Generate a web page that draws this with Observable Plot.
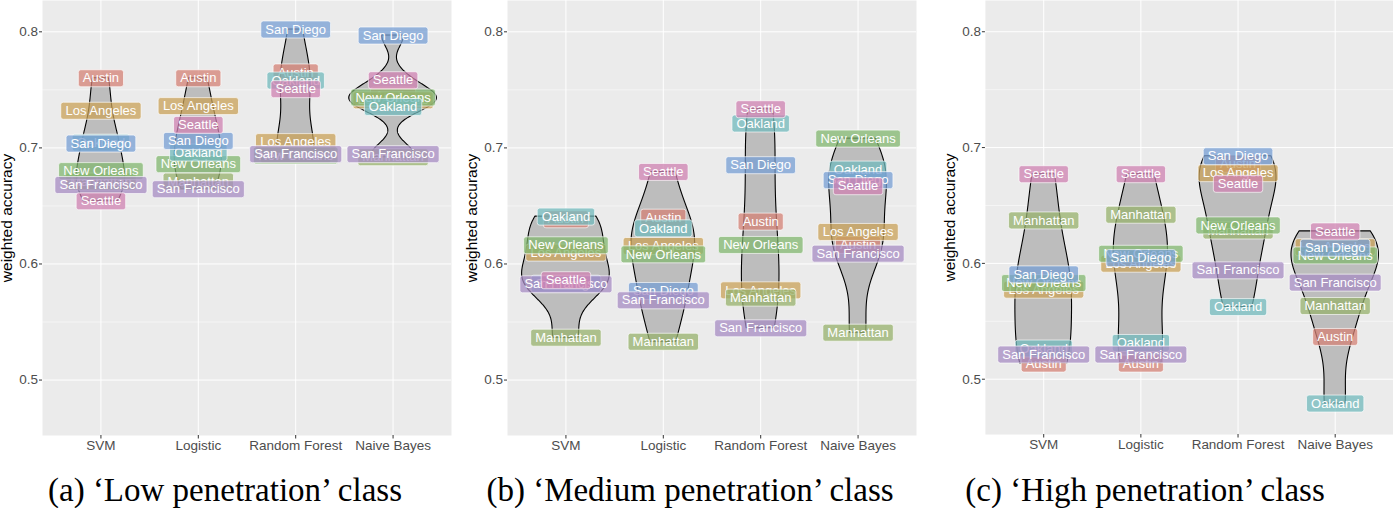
<!DOCTYPE html>
<html><head><meta charset="utf-8">
<script src="https://cdn.jsdelivr.net/npm/d3@7"></script>
<script src="https://cdn.jsdelivr.net/npm/@observablehq/plot@0.6"></script>
<style>
body{margin:0;background:#fff;width:1393px;height:508px;overflow:hidden;position:relative;font-family:"Liberation Sans",Arial,sans-serif}
.panel{position:absolute;top:0}
.cap{position:absolute;top:474px;font-family:"Liberation Serif",serif;font-size:33px;line-height:33px;white-space:nowrap;transform:translateX(-50%);color:#000}
</style></head><body>
<div id="pa" class="panel" style="left:0px"></div>
<div id="pb" class="panel" style="left:465px"></div>
<div id="pc" class="panel" style="left:943px"></div>
<div class="cap" style="left:225px">(a) ‘Low penetration’ class</div>
<div class="cap" style="left:690px">(b) ‘Medium penetration’ class</div>
<div class="cap" style="left:1145px">(c) ‘High penetration’ class</div>
<script>
const models = ["SVM", "Logistic", "Random Forest", "Naive Bayes"];
const cities = ["Austin", "Los Angeles", "Manhattan", "New Orleans", "Oakland", "San Diego", "San Francisco", "Seattle"];
const cityColors = ["#d48275", "#caa258", "#97b26c", "#82b76f", "#72babc", "#779fd4", "#a78cc3", "#cf82b2"];
const yTicks = [0.5, 0.6, 0.7, 0.8];
const yMinor = [0.55, 0.65, 0.75];
const yLabel = "weighted accuracy";

// rows: models; columns: cities (same order as `cities`)
const lowPen = [
  [0.760, 0.732, 0.671, 0.680, 0.7045, 0.7037, 0.668, 0.654],
  [0.760, 0.736, 0.671, 0.686, 0.696, 0.706, 0.6644, 0.7198],
  [0.765, 0.705, 0.694, 0.6935, 0.758, 0.802, 0.6946, 0.7506],
  [0.745, 0.741, 0.692, 0.7434, 0.7353, 0.7968, 0.6946, 0.7583]
];
const medPen = [
  [0.6385, 0.6098, 0.5365, 0.6161, 0.6408, 0.583, 0.5825, 0.586],
  [0.6399, 0.6155, 0.533, 0.6083, 0.6307, 0.5767, 0.5687, 0.6793],
  [0.6365, 0.5773, 0.571, 0.6164, 0.721, 0.6851, 0.5446, 0.7333],
  [0.6164, 0.6276, 0.5408, 0.708, 0.6813, 0.6722, 0.6089, 0.667]
];
const highPen = [
  [0.5135, 0.5773, 0.6371, 0.583, 0.5265, 0.5905, 0.5213, 0.677],
  [0.5135, 0.5997, 0.642, 0.6083, 0.5313, 0.6046, 0.5213, 0.677],
  [0.686, 0.6779, 0.6284, 0.6328, 0.5623, 0.6925, 0.594, 0.6687],
  [0.5365, 0.614, 0.5632, 0.6069, 0.479, 0.6135, 0.5834, 0.6276]
];

// Gaussian KDE with R's nrd0 bandwidth, trimmed to data range (like geom_violin)
function kde(vals) {
  const s = d3.sort(vals), n = s.length;
  const sd = d3.deviation(s);
  const iqr = d3.quantileSorted(s, 0.75) - d3.quantileSorted(s, 0.25);
  let lo = Math.min(sd, iqr / 1.34);
  if (!(lo > 0)) lo = sd || 1;
  const bw = 0.9 * lo * Math.pow(n, -0.2);
  const out = [];
  for (let k = 0; k < 512; k++) {
    const y = s[0] + (s[n - 1] - s[0]) * k / 511;
    let d = 0;
    for (const v of s) { const u = (y - v) / bw; d += Math.exp(-0.5 * u * u); }
    out.push({y, d: d / (n * bw * Math.sqrt(2 * Math.PI))});
  }
  return out;
}

function panel(id, values) {
  const labels = [];
  values.forEach((row, m) => row.forEach((v, c) => labels.push({m, c, v, city: cities[c]})));
  const dens = values.map(row => kde(row));
  const maxD = d3.max(dens.flat(), d => d.d);
  const violins = [];
  dens.forEach((arr, m) => arr.forEach(p => violins.push({m, y: p.y, x1: m - 0.45 * p.d / maxD, x2: m + 0.45 * p.d / maxD})));

  const plot = Plot.plot({
    width: 451, height: 461,
    marginLeft: 42, marginRight: 0, marginTop: 0, marginBottom: 26,
    x: {domain: [-0.6, 3.6]},
    y: {domain: [0.45224, 0.82698]},
    style: {fontFamily: "'Liberation Sans', Arial, sans-serif", fontSize: "13.5px", color: "#4d4d4d", background: "transparent", overflow: "visible"},
    marks: [
      Plot.frame({fill: "#ebebeb"}),
      Plot.gridY(yMinor, {stroke: "white", strokeOpacity: 1, strokeWidth: 0.5}),
      Plot.gridY(yTicks, {stroke: "white", strokeOpacity: 1, strokeWidth: 1}),
      Plot.gridX([0, 1, 2, 3], {stroke: "white", strokeOpacity: 1, strokeWidth: 1}),
      Plot.areaX(violins, {y: "y", x1: "x1", x2: "x2", z: "m", fill: "#bdbdbd", stroke: "#000", strokeWidth: 1.1}),
      Plot.text(labels, {x: "m", y: "v", text: "city", fill: "white", fontSize: 13}),
      Plot.axisX([0, 1, 2, 3], {tickFormat: i => models[i], tickSize: 3.5, tickPadding: 1.5, label: null, stroke: "#333"}),
      Plot.axisY(yTicks, {tickFormat: d3.format(".1f"), tickSize: 3, tickPadding: 1.5, label: null, stroke: "#333"}),
      Plot.text([yLabel], {text: d => d, frameAnchor: "left", textAnchor: "middle", dx: -35, rotate: -90, fill: "black", fontSize: 15.5})
    ]
  });
  document.getElementById(id).append(plot);
  const xs = plot.scale("x"), ys = plot.scale("y");
  const g = plot.querySelector('g[aria-label="text"]');
  const texts = Array.from(g.querySelectorAll("text"));
  const ns = "http://www.w3.org/2000/svg";
  texts.forEach((t, i) => {
    const d = labels[i];
    const bb = t.getBBox();
    const w = bb.width + 9, h = 17;
    const cx = xs.apply(d.m), cy = ys.apply(d.v);
    const r = document.createElementNS(ns, "rect");
    r.setAttribute("x", cx - w / 2);
    r.setAttribute("y", cy - h / 2);
    r.setAttribute("width", w);
    r.setAttribute("height", h);
    r.setAttribute("rx", 2.5);
    r.setAttribute("fill", cityColors[d.c]);
    r.setAttribute("fill-opacity", 0.75);
    r.setAttribute("stroke", "white");
    r.setAttribute("stroke-opacity", 0.8);
    r.setAttribute("stroke-width", 0.8);
    g.insertBefore(r, t);
  });
}
panel("pa", lowPen);
panel("pb", medPen);
panel("pc", highPen);
</script>
</body></html>
